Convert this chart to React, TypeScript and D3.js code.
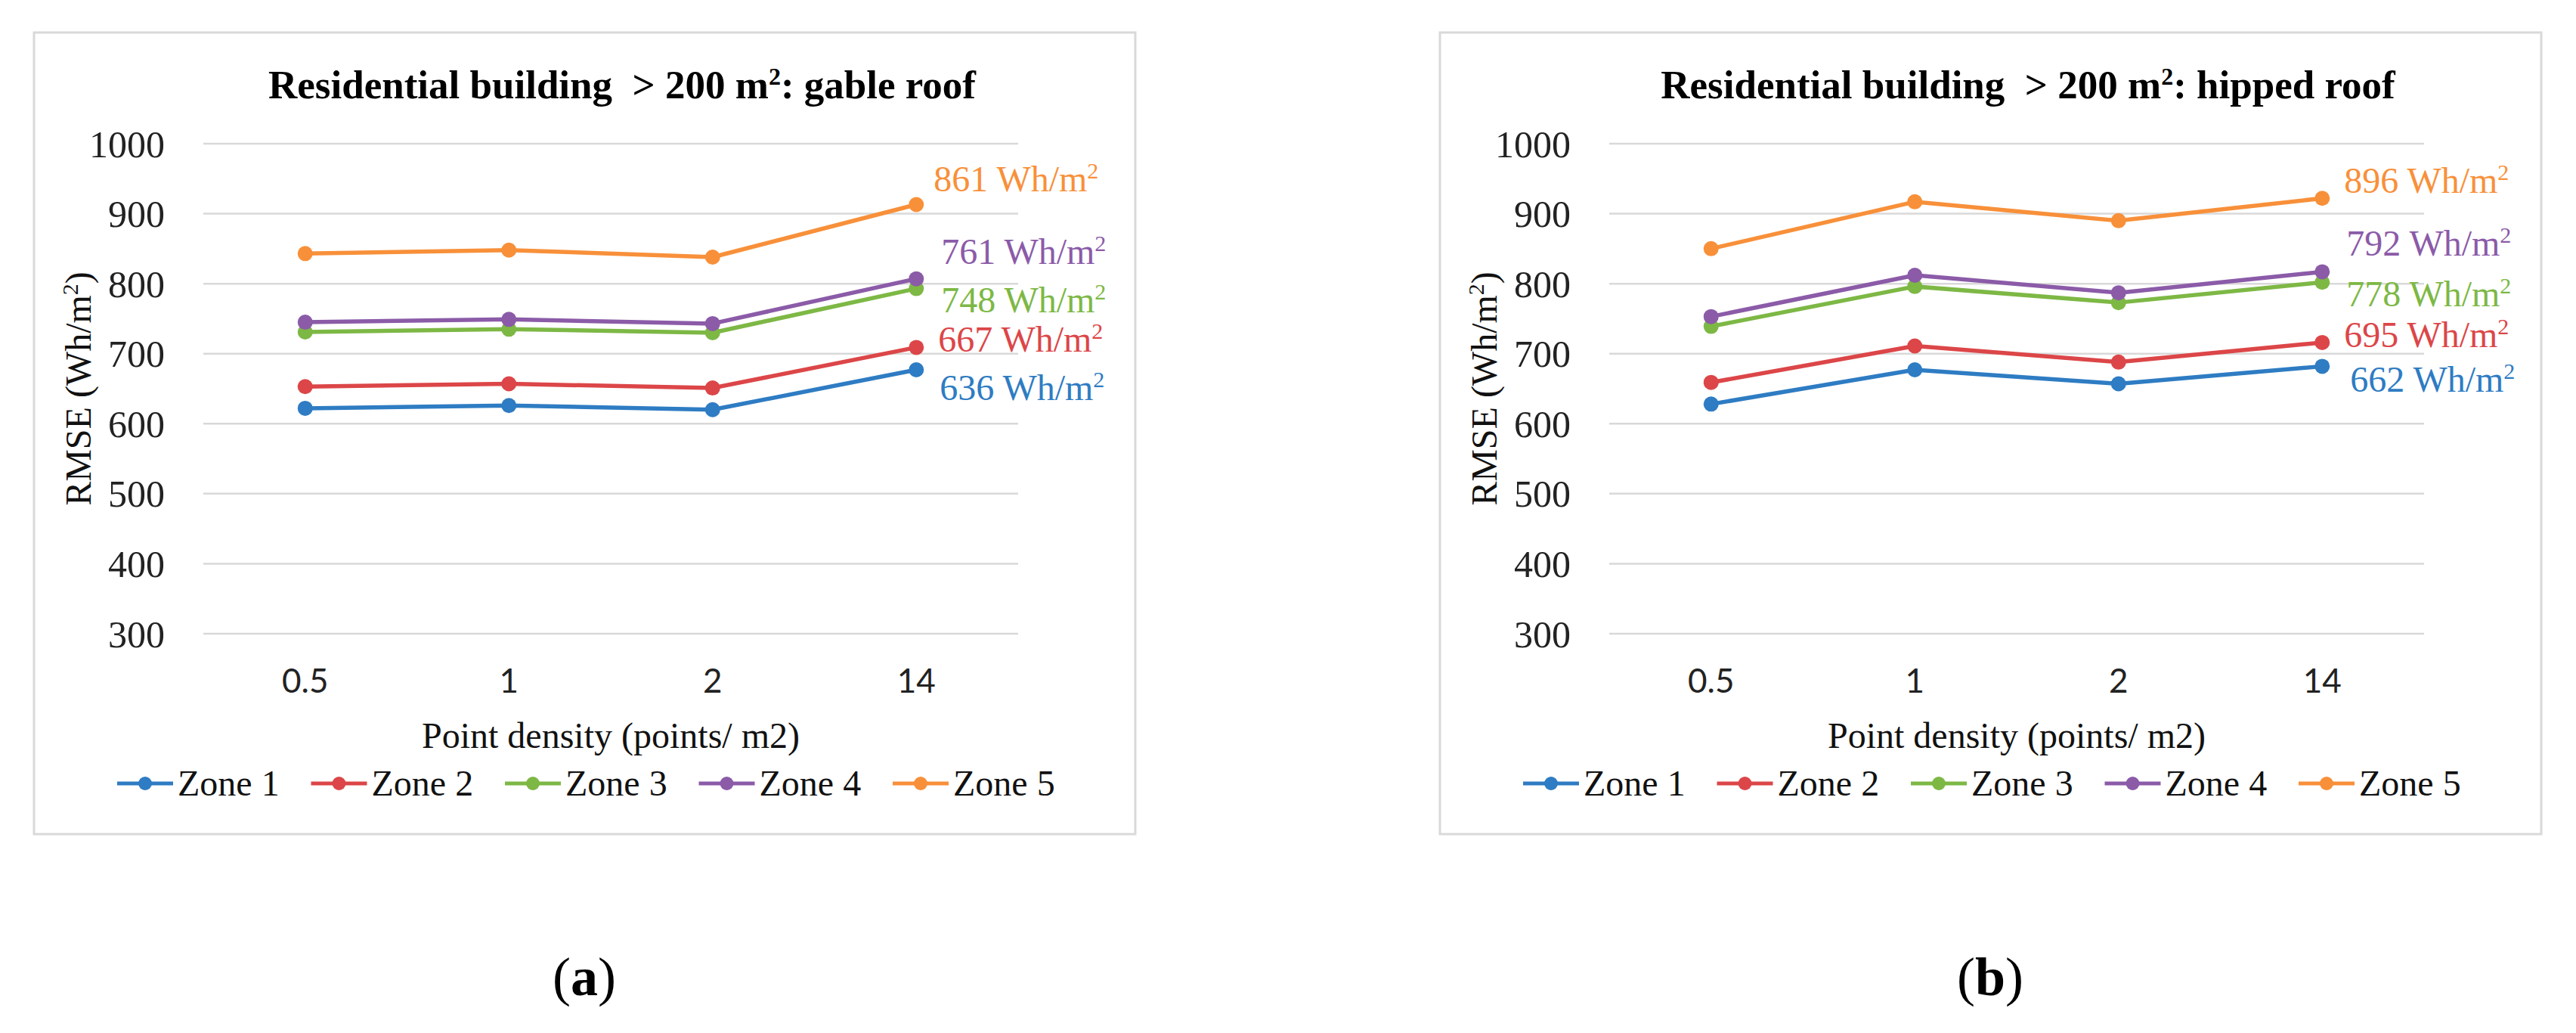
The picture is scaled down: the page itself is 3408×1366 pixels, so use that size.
import React from "react";
import * as d3 from "d3";

const categories = ["0.5", "1", "2", "14"];
const zones = ["Zone 1", "Zone 2", "Zone 3", "Zone 4", "Zone 5"];
const colors = ["#2E7CC3", "#DC4648", "#7DB845", "#8B5BA8", "#F8903A"];
const yTicks = [300, 400, 500, 600, 700, 800, 900, 1000];

// panel (a): gable roof
const gableZone1 = [622, 626, 620, 677];
const gableZone2 = [653, 657, 651, 709];
const gableZone3 = [731, 735, 730, 793];
const gableZone4 = [745, 749, 743, 807];
const gableZone5 = [843, 848, 838, 913];
const gableAverages = [636, 667, 748, 761, 861];

// panel (b): hipped roof
const hippedZone1 = [628, 677, 657, 682];
const hippedZone2 = [659, 711, 688, 716];
const hippedZone3 = [739, 796, 773, 802];
const hippedZone4 = [753, 812, 787, 817];
const hippedZone5 = [850, 917, 890, 922];
const hippedAverages = [662, 695, 778, 792, 896];

const SERIF = "'Liberation Serif', 'Times New Roman', serif";
const SANS = "Lato, 'Open Sans', sans-serif";

type PanelProps = {
  dx: number;
  title: string;
  letter: string;
  series: number[][];
  averages: number[];
  labelDx: number[];
  labelDy: number[];
};

function Panel({ dx, title, letter, series, averages, labelDx, labelDy }: PanelProps) {
  const x = d3.scaleBand<string>().domain(categories).range([269, 1347]);
  const y = d3.scaleLinear().domain([300, 1000]).range([838, 190]);
  const cx = (c: string) => (x(c) as number) + x.bandwidth() / 2;
  const line = d3
    .line<number>()
    .x((_, i) => cx(categories[i]))
    .y((v) => y(v));
  const plotCenter = (269 + 1347) / 2;
  const lastX = cx(categories[categories.length - 1]);

  return (
    <g transform={`translate(${dx},0)`}>
      <rect x={45} y={43} width={1457} height={1060} fill="#fff" stroke="#D9D9D9" strokeWidth={3} />
      <text x={823} y={130} textAnchor="middle" fontFamily={SERIF} fontWeight="bold" fontSize={53} fill="#000">
        {title.split("|")[0]}
        <tspan dy={-18} fontSize={32}>2</tspan>
        <tspan dy={18}>{title.split("|")[1]}</tspan>
      </text>
      {yTicks.map((t) => (
        <g key={t}>
          <line x1={269} x2={1347} y1={y(t)} y2={y(t)} stroke="#D9D9D9" strokeWidth={2.5} />
          <text x={218} y={y(t)} dy="0.35em" textAnchor="end" fontFamily={SERIF} fontSize={50} fill="#222">
            {t}
          </text>
        </g>
      ))}
      {categories.map((c) => (
        <text key={c} x={cx(c)} y={916} textAnchor="middle" fontFamily={SANS} fontSize={44} fill="#222">
          {c}
        </text>
      ))}
      <text x={plotCenter} y={989} textAnchor="middle" fontFamily={SERIF} fontSize={48} fill="#111">
        Point density (points/ m2)
      </text>
      <text transform={`translate(120,514) rotate(-90)`} textAnchor="middle" fontFamily={SERIF} fontSize={48} fill="#111">
        RMSE (Wh/m<tspan dy={-17} fontSize={30}>2</tspan>
        <tspan dy={17}>)</tspan>
      </text>
      {series.map((s, i) => (
        <g key={zones[i]}>
          <path d={line(s) as string} fill="none" stroke={colors[i]} strokeWidth={5.5} strokeLinejoin="round" />
          {s.map((v, j) => (
            <circle key={j} cx={cx(categories[j])} cy={y(v)} r={10} fill={colors[i]} />
          ))}
          <text
            x={lastX + labelDx[i]}
            y={y(s[s.length - 1]) + labelDy[i]}
            fontFamily={SERIF}
            fontSize={48}
            fill={colors[i]}
          >
            {`${averages[i]} Wh/m`}
            <tspan dy={-17} fontSize={30}>2</tspan>
          </text>
        </g>
      ))}
      {zones.map((z, i) => {
        const x0 = 155 + i * 256.5;
        return (
          <g key={z}>
            <line x1={x0} x2={x0 + 74} y1={1036} y2={1036} stroke={colors[i]} strokeWidth={5} />
            <circle cx={x0 + 37} cy={1036} r={9} fill={colors[i]} />
            <text x={x0 + 80} y={1052} fontFamily={SERIF} fontSize={48} fill="#111">
              {z}
            </text>
          </g>
        );
      })}
      <text x={773} y={1316} textAnchor="middle" fontFamily={SERIF} fontSize={72} fill="#000">
        (<tspan fontWeight="bold">{letter}</tspan>)
      </text>
    </g>
  );
}

export default function App() {
  return (
    <svg
      width={3408}
      height={1366}
      style={{ position: "absolute", left: 0, top: 0, background: "#fff" }}
    >
      <rect x={0} y={0} width={3408} height={1366} fill="#fff" />
      <Panel
        dx={0}
        title={"Residential building\u00A0 > 200 m|: gable roof"}
        letter="a"
        series={[gableZone1, gableZone2, gableZone3, gableZone4, gableZone5]}
        averages={gableAverages}
        labelDx={[31, 29, 33, 33, 23]}
        labelDy={[40, 6, 31, -20, -18]}
      />
      <Panel
        dx={1860}
        title={"Residential building\u00A0 > 200 m|: hipped roof"}
        letter="b"
        series={[hippedZone1, hippedZone2, hippedZone3, hippedZone4, hippedZone5]}
        averages={hippedAverages}
        labelDx={[37, 29, 32, 32, 29]}
        labelDy={[34, 6, 32, -21, -7]}
      />
    </svg>
  );
}
